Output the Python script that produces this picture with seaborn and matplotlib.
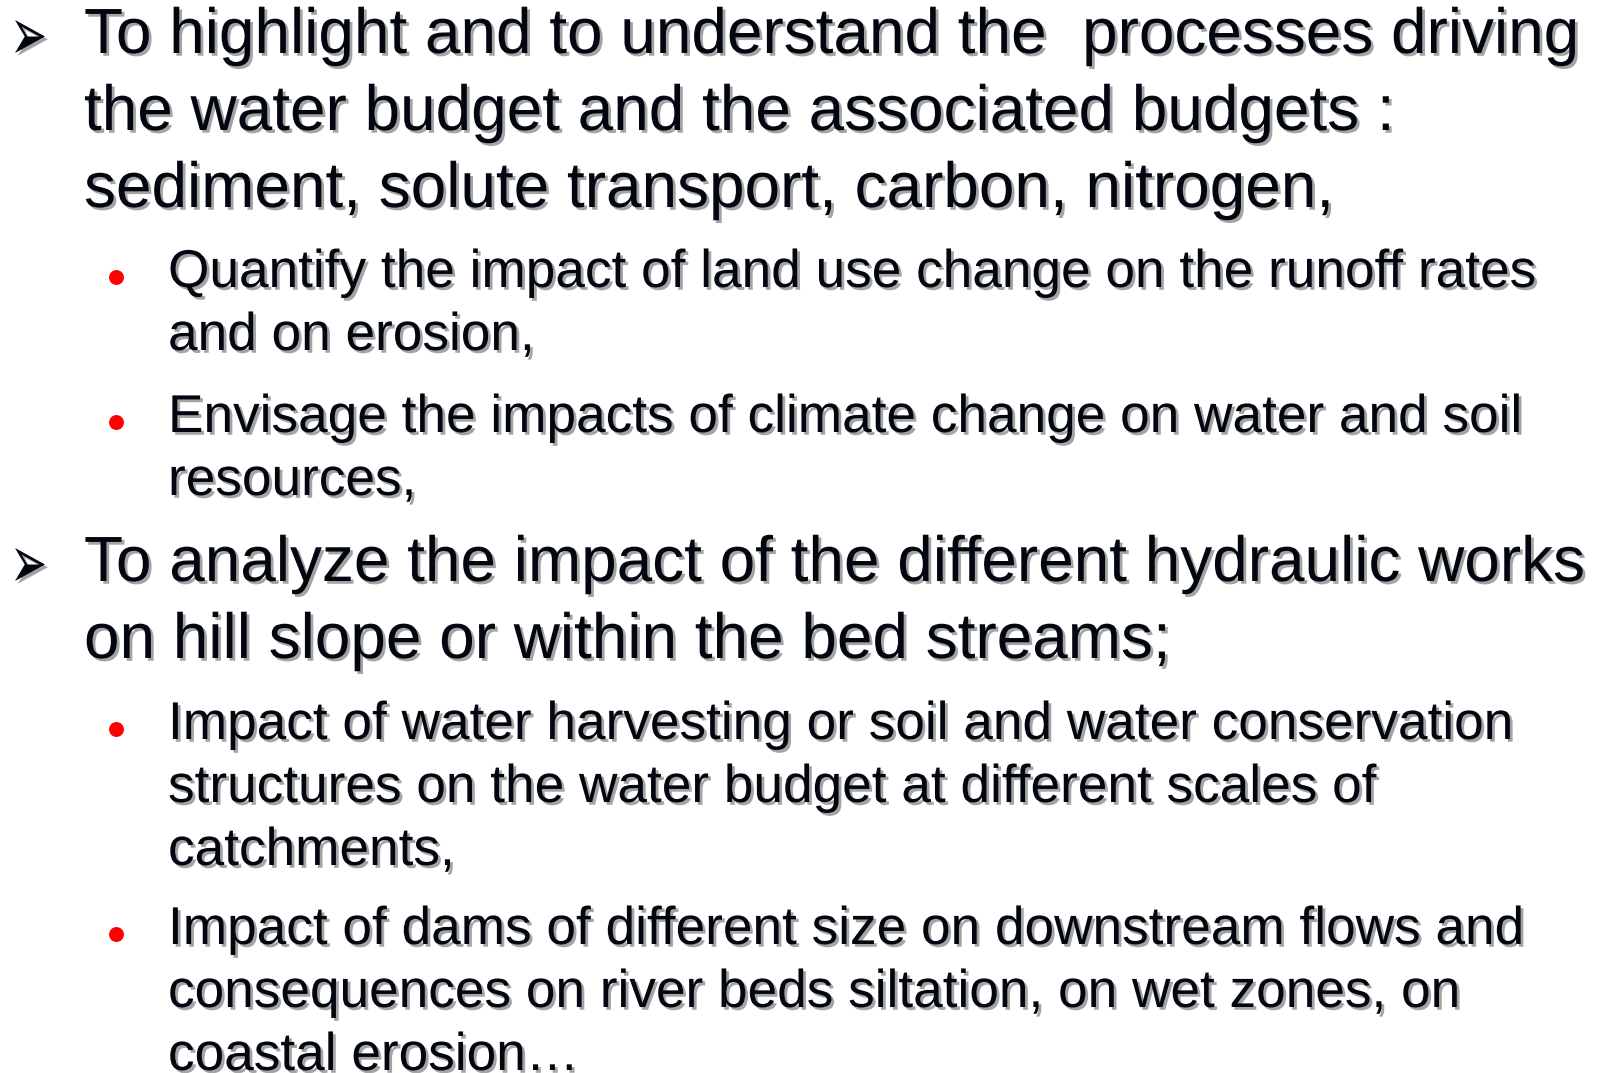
import matplotlib.pyplot as plt
import matplotlib.patheffects as pe
from matplotlib.textpath import TextPath
from matplotlib.patches import PathPatch
from matplotlib.font_manager import FontProperties
from matplotlib.transforms import Affine2D
import seaborn as sns

# slide text, one list per bullet
point_1 = ["To highlight and to understand the  processes driving",
           "the water budget and the associated budgets :",
           "sediment, solute transport, carbon, nitrogen,"]
point_1a = ["Quantify the impact of land use change on the runoff rates",
            "and on erosion,"]
point_1b = ["Envisage the impacts of climate change on water and soil",
            "resources,"]
point_2 = ["To analyze the impact of the different hydraulic works",
           "on hill slope or within the bed streams;"]
point_2a = ["Impact of water harvesting or soil and water conservation",
            "structures on the water budget at different scales of",
            "catchments,"]
point_2b = ["Impact of dams of different size on downstream flows and",
            "consequences on river beds siltation, on wet zones, on",
            "coastal erosion\u2026"]

blocks = [(1, point_1), (2, point_1a), (2, point_1b),
          (1, point_2), (2, point_2a), (2, point_2b)]

# layout (pixels from top-left)
W, H = 1606, 1073
block_top = [53, 287, 432, 581, 739, 944]
line_step = {1: 77, 2: 63}
text_x = {1: 84, 2: 168}
font_size = {1: 46, 2: 38.3}
text_color = '#02060f'

sns.set_theme(style='white')
plt.rcParams['font.family'] = ['Liberation Sans', 'DejaVu Sans']

fig = plt.figure(figsize=(W / 100, H / 100), dpi=100)
fig.patch.set_facecolor('white')
ax = fig.add_axes([0, 0, 1, 1])
ax.set_xlim(0, W)
ax.set_ylim(H, 0)
ax.axis('off')

shadow = [pe.withSimplePatchShadow(offset=(2, -2), shadow_rgbFace='#9a9a9a', alpha=0.9)]

# arrowhead glyph, stretched into its box
arrow_path = TextPath((0, 0), '\u27a2', size=1, prop=FontProperties(family='DejaVu Sans'))
ext = arrow_path.get_extents()


def draw_arrow(x0, y_top, w, h):
    tr = (Affine2D().translate(-ext.x0, -ext.y1)
          .scale(w / ext.width, -h / ext.height)
          .translate(x0, y_top))
    patch = PathPatch(tr.transform_path(arrow_path), facecolor=text_color,
                      edgecolor='none', path_effects=shadow)
    ax.add_patch(patch)


for (level, lines), y0 in zip(blocks, block_top):
    if level == 1:
        draw_arrow(15, y0 - 33, 30, 33)
    else:
        ax.scatter([116], [y0 - 10], s=115, color='#ff0000', linewidths=0)
    for i, line in enumerate(lines):
        ax.text(text_x[level], y0 + i * line_step[level], line,
                fontsize=font_size[level], color=text_color, va='baseline',
                path_effects=shadow)

fig.savefig('out.png', dpi=100, facecolor='white')
